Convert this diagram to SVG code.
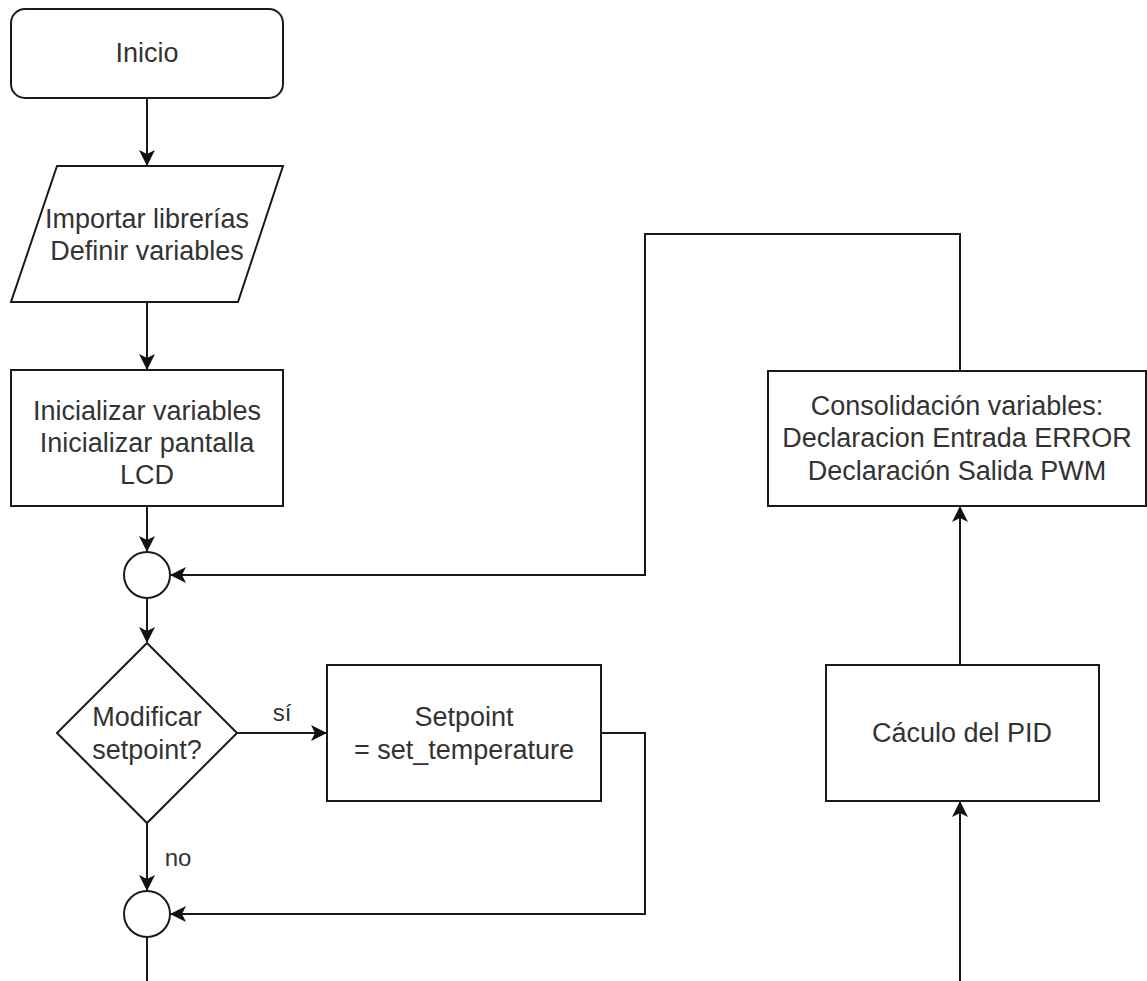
<svg xmlns="http://www.w3.org/2000/svg" width="1147" height="981" viewBox="0 0 1147 981">
<style>
.s{fill:#fff;stroke:#1a1a1a;stroke-width:2}
.c{fill:none;stroke:#1a1a1a;stroke-width:2}
.t{font-family:"Liberation Sans",Arial,sans-serif;font-size:27px;fill:#333;text-anchor:middle}
.l{font-family:"Liberation Sans",Arial,sans-serif;font-size:24px;fill:#333;text-anchor:middle}
</style>
<defs>
<marker id="a" viewBox="0 0 16 16" refX="15" refY="8" markerWidth="16" markerHeight="16" markerUnits="userSpaceOnUse" orient="auto">
<path d="M0,0 L16,8 L0,16 L4,8 Z" fill="#111"/>
</marker>
</defs>
<rect width="1147" height="981" fill="#fff"/>
<g id="connectors">
<line class="c" x1="147" y1="98" x2="147" y2="165" marker-end="url(#a)"/>
<line class="c" x1="147" y1="302" x2="147" y2="369" marker-end="url(#a)"/>
<line class="c" x1="147" y1="506" x2="147" y2="551" marker-end="url(#a)"/>
<line class="c" x1="147" y1="598" x2="147" y2="642" marker-end="url(#a)"/>
<line class="c" x1="237" y1="733" x2="326" y2="733" marker-end="url(#a)"/>
<line class="c" x1="147" y1="823" x2="147" y2="890" marker-end="url(#a)"/>
<polyline class="c" points="601,733 645,733 645,914 171,914" marker-end="url(#a)"/>
<line class="c" x1="147" y1="937" x2="147" y2="981"/>
<polyline class="c" points="960,371 960,234 645,234 645,575 171,575" marker-end="url(#a)"/>
<line class="c" x1="960" y1="664" x2="960" y2="507" marker-end="url(#a)"/>
<line class="c" x1="960" y1="981" x2="960" y2="802" marker-end="url(#a)"/>
<text class="l" x="282" y="721">sí</text>
<text class="l" x="178" y="866">no</text>
</g>
<g id="inicio">
<rect class="s" x="11" y="9" width="272" height="89" rx="14"/>
<text class="t" x="147" y="62">Inicio</text>
</g>
<g id="importar">
<polygon class="s" points="57,166 283,166 238,302 11,302"/>
<text class="t" x="147" y="228">Importar librerías</text>
<text class="t" x="147" y="260">Definir variables</text>
</g>
<g id="inicializar">
<rect class="s" x="11" y="370" width="272" height="136"/>
<text class="t" x="147" y="420">Inicializar variables</text>
<text class="t" x="147" y="452">Inicializar pantalla</text>
<text class="t" x="147" y="484">LCD</text>
</g>
<g id="junta1">
<circle class="s" cx="147" cy="575" r="23"/>
</g>
<g id="decision">
<polygon class="s" points="147,643 237,733 147,823 57,733"/>
<text class="t" x="147" y="726">Modificar</text>
<text class="t" x="147" y="759">setpoint?</text>
</g>
<g id="setpoint">
<rect class="s" x="327" y="665" width="274" height="136"/>
<text class="t" x="464" y="726">Setpoint</text>
<text class="t" x="464" y="759">= set_temperature</text>
</g>
<g id="junta2">
<circle class="s" cx="147" cy="914" r="23"/>
</g>
<g id="consolidacion">
<rect class="s" x="768" y="371" width="378" height="135"/>
<text class="t" x="957" y="415">Consolidación variables:</text>
<text class="t" x="957" y="447">Declaracion Entrada ERROR</text>
<text class="t" x="957" y="480">Declaración Salida PWM</text>
</g>
<g id="pid">
<rect class="s" x="826" y="665" width="273" height="136"/>
<text class="t" x="962" y="742">Cáculo del PID</text>
</g>
</svg>
